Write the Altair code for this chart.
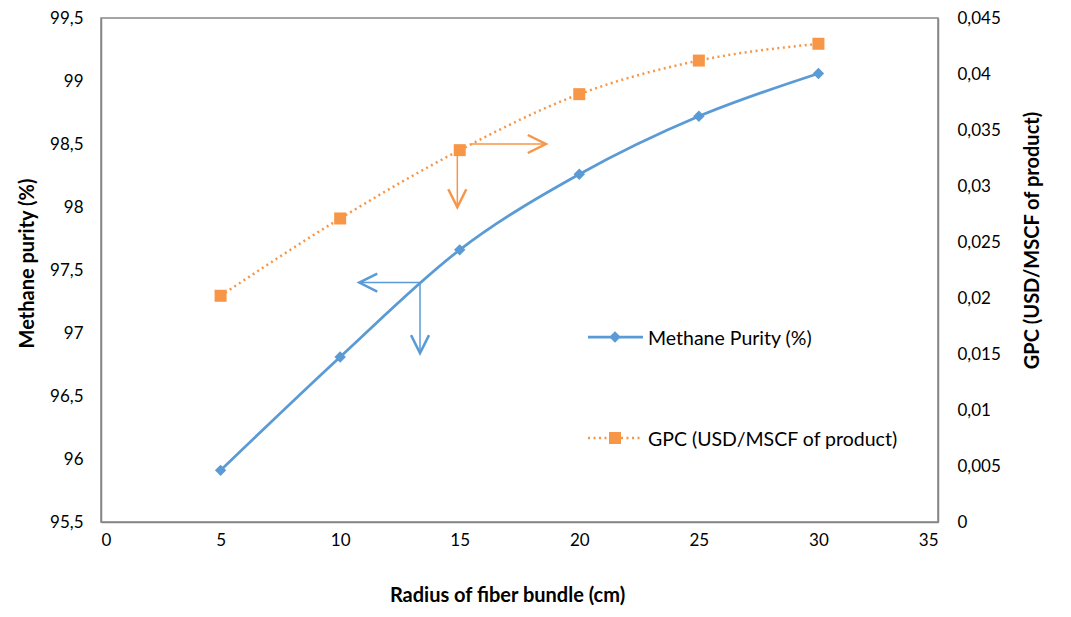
import altair as alt
import pandas as pd

# ---- data ----
radius = [5, 10, 15, 20, 25, 30]
purity = [95.91, 96.81, 97.66, 98.26, 98.72, 99.06]
gpc = [0.0202, 0.0271, 0.0332, 0.0382, 0.0412, 0.0427]

x_ticks = [0, 5, 10, 15, 20, 25, 30, 35]
left_ticks = [95.5, 96, 96.5, 97, 97.5, 98, 98.5, 99, 99.5]
right_ticks = [0, 0.005, 0.01, 0.015, 0.02, 0.025, 0.03, 0.035, 0.04, 0.045]

# annotation arrows (data coordinates)
blue_arrow_x = [13.34, 13.34]
blue_arrow_y = [97.40, 97.40]
blue_arrow_x2 = [10.8, 13.34]
blue_arrow_y2 = [97.40, 96.84]
blue_arrow_angle = [180, 90]

orange_arrow_x = [15.45, 14.9]
orange_arrow_y = [0.03375, 0.0330]
orange_arrow_x2 = [18.6, 14.9]
orange_arrow_y2 = [0.03375, 0.0281]
orange_arrow_angle = [0, 90]

legend_labels = ["Methane Purity (%)", "GPC (USD/MSCF of product)"]

BLUE = "#5B9BD5"
ORANGE = "#F79646"
FONT = "Lato"
AXIS_COLOR = "#868686"
CHEVRON = "M-2,-1L0,0L-2,1"
TICK_FS = 17
TITLE_FS = 20
LEG_FS = 19.5

df = pd.DataFrame({"radius": radius, "purity": purity, "gpc": gpc})
blue_arr = pd.DataFrame({"x": blue_arrow_x, "y": blue_arrow_y, "x2": blue_arrow_x2,
                         "y2": blue_arrow_y2, "angle": blue_arrow_angle})
orange_arr = pd.DataFrame({"x": orange_arrow_x, "y": orange_arrow_y, "x2": orange_arrow_x2,
                           "y2": orange_arrow_y2, "angle": orange_arrow_angle})
one = pd.DataFrame({"label": [legend_labels[0]]})
two = pd.DataFrame({"label": [legend_labels[1]]})

x_scale = alt.Scale(domain=[0, 35], nice=False, zero=False)
yl_scale = alt.Scale(domain=[95.5, 99.5], nice=False, zero=False)
yr_scale = alt.Scale(domain=[0, 0.045], nice=False, zero=False)

x_axis = alt.Axis(values=x_ticks, title="Radius of fiber bundle (cm)", ticks=False,
                  grid=False, domainColor=AXIS_COLOR, domainWidth=1.5,
                  labelFont=FONT, labelFontSize=TICK_FS, labelColor="#000000", labelPadding=10,
                  titleFont=FONT, titleFontSize=TITLE_FS, titleFontWeight="bold",
                  titleColor="#000000", titlePadding=37, titleX=406)
yl_axis = alt.Axis(values=left_ticks, title="Methane purity (%)", ticks=False, grid=False,
                   domainColor=AXIS_COLOR, domainWidth=1.5,
                   labelExpr="replace(toString(datum.value), '.', ',')",
                   labelFont=FONT, labelFontSize=TICK_FS, labelColor="#000000", labelPadding=18,
                   titleFont=FONT, titleFontSize=TITLE_FS, titleFontWeight="bold",
                   titleColor="#000000", titlePadding=12, titleY=245)
yr_axis = alt.Axis(values=right_ticks, title="GPC (USD/MSCF of product)", orient="right",
                   ticks=False, grid=False, domainColor=AXIS_COLOR, domainWidth=1.5,
                   labelExpr="replace(toString(datum.value), '.', ',')",
                   labelFont=FONT, labelFontSize=TICK_FS, labelColor="#000000", labelPadding=19,
                   titleFont=FONT, titleFontSize=TITLE_FS, titleFontWeight="bold",
                   titleColor="#000000", titleAngle=-90, titlePadding=42, titleY=222)

base = alt.Chart(df)

blue_line = base.mark_line(color=BLUE, strokeWidth=2.75, interpolate="monotone").encode(
    x=alt.X("radius:Q", scale=x_scale, axis=x_axis),
    y=alt.Y("purity:Q", scale=yl_scale, axis=yl_axis),
)
blue_pts = base.mark_point(shape="diamond", filled=True, color=BLUE, size=130, opacity=1).encode(
    x=alt.X("radius:Q", scale=x_scale, axis=x_axis),
    y=alt.Y("purity:Q", scale=yl_scale, axis=yl_axis),
)
blue_shaft = alt.Chart(blue_arr).mark_rule(color=BLUE, strokeWidth=1.5).encode(
    x=alt.X("x:Q", scale=x_scale, axis=x_axis), x2="x2:Q",
    y=alt.Y("y:Q", scale=yl_scale, axis=yl_axis), y2="y2:Q",
)
blue_head = alt.Chart(blue_arr).mark_point(shape=CHEVRON, filled=False, color=BLUE,
                                           strokeWidth=2.5, size=324, opacity=1).encode(
    x=alt.X("x2:Q", scale=x_scale, axis=x_axis),
    y=alt.Y("y2:Q", scale=yl_scale, axis=yl_axis),
    angle=alt.Angle("angle:Q", scale=None),
)

# manual legend (pixel placement inside plot)
leg1_line = alt.Chart(one).mark_rule(color=BLUE, strokeWidth=2.75).encode(
    x=alt.value(487), x2=alt.value(542), y=alt.value(319))
leg1_pt = alt.Chart(one).mark_point(shape="diamond", filled=True, color=BLUE, size=130,
                                    opacity=1).encode(x=alt.value(514), y=alt.value(319))
leg1_txt = alt.Chart(one).mark_text(align="left", baseline="middle", font=FONT, fontSize=LEG_FS,
                                    color="#000000").encode(
    x=alt.value(547), y=alt.value(321), text="label:N")
leg2_line = alt.Chart(two).mark_rule(color=ORANGE, strokeWidth=2.5, strokeDash=[2, 3.5]).encode(
    x=alt.value(487), x2=alt.value(542), y=alt.value(420))
leg2_pt = alt.Chart(two).mark_point(shape="square", filled=True, color=ORANGE, size=144,
                                    opacity=1).encode(x=alt.value(514), y=alt.value(420))
leg2_txt = alt.Chart(two).mark_text(align="left", baseline="middle", font=FONT, fontSize=LEG_FS,
                                    color="#000000").encode(
    x=alt.value(547), y=alt.value(422), text="label:N")

left = alt.layer(blue_line, blue_pts, blue_shaft, blue_head,
                 leg1_line, leg1_pt, leg1_txt, leg2_line, leg2_pt, leg2_txt)

orange_line = base.mark_line(color=ORANGE, strokeWidth=2.5, strokeDash=[2, 3.5],
                             interpolate="monotone").encode(
    x=alt.X("radius:Q", scale=x_scale, axis=x_axis),
    y=alt.Y("gpc:Q", scale=yr_scale, axis=yr_axis),
)
orange_pts = base.mark_point(shape="square", filled=True, color=ORANGE, size=144, opacity=1).encode(
    x=alt.X("radius:Q", scale=x_scale, axis=x_axis),
    y=alt.Y("gpc:Q", scale=yr_scale, axis=yr_axis),
)
orange_shaft = alt.Chart(orange_arr).mark_rule(color=ORANGE, strokeWidth=1.5).encode(
    x=alt.X("x:Q", scale=x_scale, axis=x_axis), x2="x2:Q",
    y=alt.Y("y:Q", scale=yr_scale, axis=yr_axis), y2="y2:Q",
)
orange_head = alt.Chart(orange_arr).mark_point(shape=CHEVRON, filled=False, color=ORANGE,
                                               strokeWidth=2.5, size=324, opacity=1).encode(
    x=alt.X("x2:Q", scale=x_scale, axis=x_axis),
    y=alt.Y("y2:Q", scale=yr_scale, axis=yr_axis),
    angle=alt.Angle("angle:Q", scale=None),
)

right = alt.layer(orange_line, orange_pts, orange_shaft, orange_head)

chart = alt.layer(left, right).resolve_scale(y="independent").properties(
    width=837, height=504,
    autosize=alt.AutoSizeParams(type="none"),
    padding={"left": 93, "top": 10, "right": 125, "bottom": 87},
).configure_view(stroke=AXIS_COLOR, strokeWidth=1.5)

chart.save("out.html", embed_options={"renderer": "svg", "actions": False})
